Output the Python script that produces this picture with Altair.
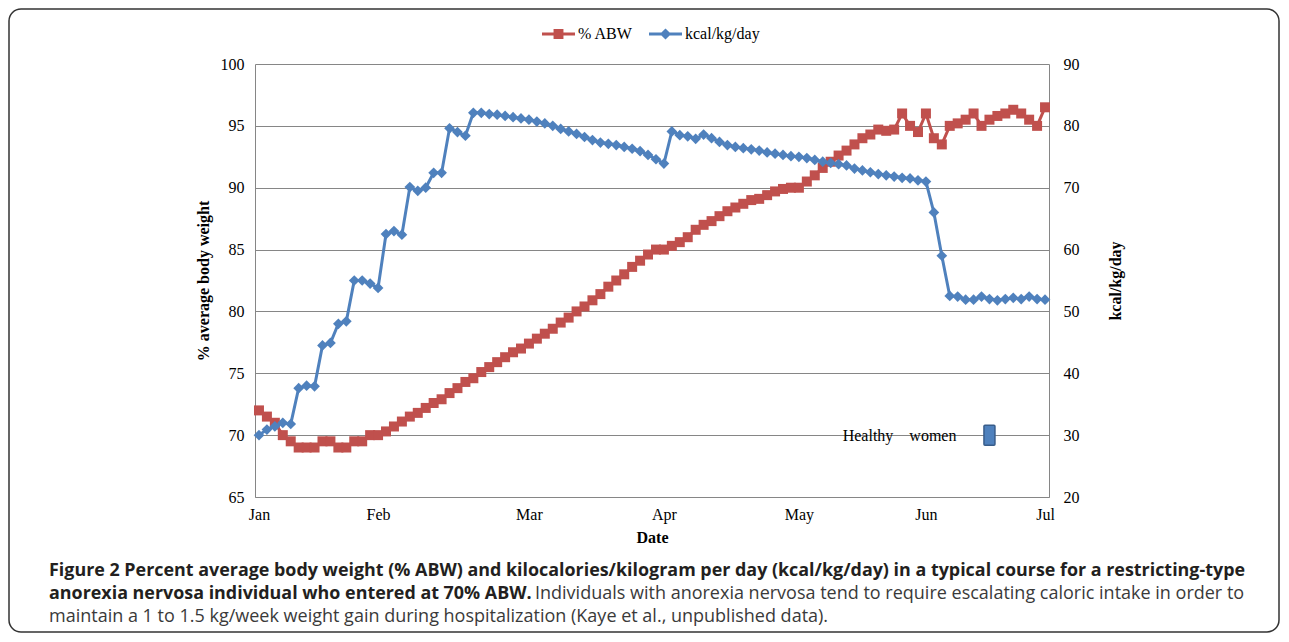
import altair as alt
import pandas as pd

# ---------------- data ----------------
months = ["Jan", "Feb", "Mar", "Apr", "May", "Jun", "Jul"]
month_pos = [0, 15, 34, 51, 68, 84, 99]

abw = [72.0, 71.5, 71.0, 70.0, 69.5, 69.0, 69.0, 69.0, 69.5, 69.5,
       69.0, 69.0, 69.5, 69.5, 70.0, 70.0, 70.3, 70.7, 71.1, 71.5,
       71.8, 72.2, 72.6, 72.9, 73.4, 73.8, 74.3, 74.6, 75.1, 75.5,
       75.9, 76.3, 76.7, 77.0, 77.4, 77.8, 78.2, 78.6, 79.1, 79.5,
       80.0, 80.4, 80.9, 81.4, 82.0, 82.5, 83.0, 83.6, 84.1, 84.6,
       85.0, 85.0, 85.3, 85.6, 86.0, 86.6, 87.0, 87.3, 87.7, 88.1,
       88.4, 88.7, 89.0, 89.1, 89.4, 89.7, 89.9, 90.0, 90.0, 90.5,
       91.0, 91.6, 92.1, 92.6, 93.0, 93.5, 94.0, 94.3, 94.7, 94.6,
       94.7, 96.0, 95.0, 94.5, 96.0, 94.0, 93.5, 95.0, 95.2, 95.5,
       96.0, 95.0, 95.5, 95.8, 96.0, 96.3, 96.0, 95.5, 95.0, 96.5]

kcal = [30.0, 30.9, 31.4, 32.0, 31.8, 37.6, 38.0, 37.9, 44.5, 44.9,
        48.0, 48.4, 55.0, 55.0, 54.5, 53.8, 62.5, 63.0, 62.4, 70.1,
        69.5, 70.0, 72.4, 72.4, 79.6, 79.0, 78.4, 82.1, 82.1, 81.9,
        81.8, 81.6, 81.4, 81.2, 81.0, 80.7, 80.4, 80.0, 79.5, 79.1,
        78.7, 78.2, 77.7, 77.3, 77.1, 76.9, 76.6, 76.3, 75.9, 75.3,
        74.6, 73.9, 79.1, 78.5, 78.3, 77.9, 78.6, 78.0, 77.4, 76.9,
        76.6, 76.4, 76.2, 76.0, 75.7, 75.5, 75.3, 75.1, 75.0, 74.8,
        74.5, 74.2, 74.0, 73.8, 73.6, 73.1, 72.8, 72.5, 72.2, 72.0,
        71.8, 71.6, 71.5, 71.2, 71.0, 66.0, 59.0, 52.5, 52.4, 51.9,
        51.9, 52.4, 52.0, 51.8, 52.0, 52.2, 52.0, 52.4, 52.0, 51.9]

healthy_x = [92]
healthy_y = [30]
healthy_label = ["Healthy\u00a0\u00a0\u00a0\u00a0women"]

series_names = ["% ABW", "kcal/kg/day"]

caption_l1 = ("Figure 2 Percent average body weight (% ABW) and kilocalories/kilogram "
              "per day (kcal/kg/day) in a typical course for a restricting-type")
caption_l2b = "anorexia nervosa individual who entered at 70% ABW."
caption_l2r = ("Individuals with anorexia nervosa tend to require escalating caloric "
               "intake in order to")
caption_l3 = ("maintain a 1 to 1.5 kg/week weight gain during hospitalization "
              "(Kaye et al., unpublished data).")

# ---------------- frames ----------------
idx = list(range(len(abw)))
df_abw = pd.DataFrame({"i": idx, "value": abw, "series": series_names[0]})
df_kcal = pd.DataFrame({"i": idx, "value": kcal, "series": series_names[1]})
df_h = pd.DataFrame({"i": healthy_x, "value": healthy_y, "label": healthy_label})

RED = "#C0504D"
BLUE = "#4F81BD"
GRAY = "#868686"
SERIF = "Liberation Serif"
SANS = "Open Sans"

W, H = 794, 433

label_expr = " : ".join(f"datum.value == {p} ? '{m}'" for p, m in zip(month_pos, months)) + " : ''"

x_enc = alt.X(
    "i:Q",
    scale=alt.Scale(domain=[-0.5, len(abw) - 0.5], nice=False, zero=False),
    axis=alt.Axis(
        values=month_pos, labelExpr=label_expr, title="Date", ticks=False, grid=False,
        domainColor=GRAY, labelFont=SERIF, labelFontSize=16, labelColor="black",
        labelPadding=9, labelFlush=False, labelOverlap=False,
        titleFont=SERIF, titleFontSize=16, titleFontWeight="bold", titleColor="black",
        titleX=W / 2, titleY=40, titleBaseline="middle", titleAlign="center",
    ),
)

y_left = alt.Y(
    "value:Q",
    scale=alt.Scale(domain=[65, 100], nice=False, zero=False),
    axis=alt.Axis(
        values=list(range(65, 101, 5)), title="% average body weight", ticks=False,
        grid=True, gridColor=GRAY, gridWidth=1, domainColor=GRAY,
        labelFont=SERIF, labelFontSize=16, labelColor="black", labelPadding=11,
        titleFont=SERIF, titleFontSize=16, titleFontWeight="bold", titleColor="black",
        titleAngle=270, titleX=-52, titleY=H / 2, titleBaseline="middle", titleAlign="center",
    ),
)

y_right = alt.Y(
    "value:Q",
    scale=alt.Scale(domain=[20, 90], nice=False, zero=False),
    axis=alt.Axis(
        orient="right", values=list(range(20, 91, 10)), title="kcal/kg/day", ticks=False,
        grid=False, domainColor=GRAY,
        labelFont=SERIF, labelFontSize=16, labelColor="black", labelPadding=14,
        titleFont=SERIF, titleFontSize=16, titleFontWeight="bold", titleColor="black",
        titleAngle=270, titleX=66, titleY=H / 2, titleBaseline="middle", titleAlign="center",
    ),
)

PATH_ABW = "M-1,-0.09H1V0.09H-1Z M-0.3,-0.3H0.3V0.3H-0.3Z"
PATH_KCAL = "M-1,-0.09H1V0.09H-1Z M0,-0.34L0.34,0L0,0.34L-0.34,0Z"

legend_common = dict(
    title=None, orient="none", direction="horizontal", symbolSize=1089,
    symbolStrokeWidth=0, symbolOpacity=1, labelFont=SERIF, labelFontSize=16,
    labelColor="black", labelOffset=3,
)

abw_line = alt.Chart(df_abw).mark_line(color=RED, strokeWidth=3).encode(x=x_enc, y=y_left)
abw_pts = alt.Chart(df_abw).mark_point(shape="square", size=100, filled=True, opacity=1).encode(
    x=x_enc, y=y_left,
    color=alt.Color("series:N", scale=alt.Scale(domain=[series_names[0]], range=[RED]),
                    legend=alt.Legend(symbolType=PATH_ABW, legendX=287, legendY=-46.5,
                                      **legend_common)),
)

kcal_line = alt.Chart(df_kcal).mark_line(color=BLUE, strokeWidth=3).encode(x=x_enc, y=y_right)
kcal_pts = alt.Chart(df_kcal).mark_point(shape="diamond", size=115, filled=True, opacity=1).encode(
    x=x_enc, y=y_right,
    fill=alt.Fill("series:N", scale=alt.Scale(domain=[series_names[1]], range=[BLUE]),
                  legend=alt.Legend(symbolType=PATH_KCAL, legendX=394, legendY=-46.5,
                                    **legend_common)),
)

h_pt = alt.Chart(df_h).mark_point(
    shape="M-0.45,-1H0.45Q0.55,-1 0.55,-0.9V0.9Q0.55,1 0.45,1H-0.45Q-0.55,1 -0.55,0.9V-0.9Q-0.55,-1 -0.45,-1Z",
    size=400, filled=True, fill=BLUE, stroke="#385D8A", strokeWidth=1.5, opacity=1,
).encode(x=x_enc, y=y_right)
h_txt = alt.Chart(df_h).mark_text(
    align="right", baseline="middle", dx=-33, dy=1, font=SERIF, fontSize=16, color="black",
).encode(x=x_enc, y=y_right, text="label:N")

left = alt.layer(abw_line, abw_pts)
right = alt.layer(kcal_line, kcal_pts, h_pt, h_txt)

border = alt.Chart().mark_rect(
    fill="white", fillOpacity=0, stroke="#333333", strokeWidth=1.5, cornerRadius=12,
).encode(x=alt.value(-246), x2=alt.value(1024), y=alt.value(-55), y2=alt.value(568))


def cap(text, x, y, bold):
    return alt.Chart().mark_text(
        align="left", baseline="alphabetic", font=SANS,
        fontSize=17.9 if bold else 18,
        fontWeight="bold" if bold else "normal",
        color="#231F20" if bold else "#3A3A3A",
    ).encode(x=alt.value(x), y=alt.value(y), text=alt.value(text))


captions = [
    cap(caption_l1, -206, 512, True),
    cap(caption_l2b, -206, 535, True),
    cap(caption_l2r, 280, 535, False),
    cap(caption_l3, -206, 558, False),
]

chart = alt.layer(border, left, right, *captions).resolve_scale(
    y="independent", color="independent", fill="independent"
).properties(
    width=W, height=H,
    autosize=alt.AutoSizeParams(type="none"),
    padding={"left": 247, "top": 56, "right": 231, "bottom": 136},
    background="white",
).configure_view(stroke="transparent")

chart.save("out.html", embed_options={"renderer": "svg", "actions": False})
